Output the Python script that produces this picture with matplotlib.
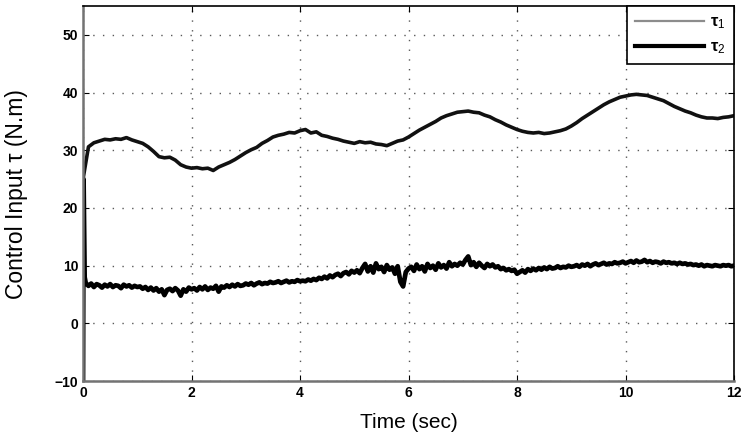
import numpy as np
import matplotlib
matplotlib.use('Agg')
import matplotlib.pyplot as plt
from matplotlib.lines import Line2D

# time grids
t1 = np.round(np.arange(0, 12.001, 0.1), 2)
t2 = np.concatenate([[0.0, 0.01, 0.03], np.round(np.arange(0.05, 12.001, 0.05), 2)])

# tau_1 (upper curve), sampled every 0.1 s
tau1 = [
    25.0, 30.6, 31.3, 31.6, 31.9, 31.8, 32.0, 31.9, 32.2, 31.8,
    31.5, 31.2, 30.6, 29.8, 28.9, 28.7, 28.8, 28.3, 27.5, 27.1,
    26.9, 27.0, 26.8, 26.9, 26.5, 27.1, 27.5, 27.9, 28.4, 29.0,
    29.6, 30.1, 30.5, 31.2, 31.7, 32.3, 32.6, 32.8, 33.1, 33.0,
    33.4, 33.6, 33.0, 33.2, 32.6, 32.4, 32.1, 31.9, 31.6, 31.4,
    31.2, 31.5, 31.3, 31.4, 31.1, 31.0, 30.8, 31.2, 31.6, 31.8,
    32.3, 32.9, 33.5, 34.0, 34.5, 35.0, 35.6, 36.0, 36.3, 36.6,
    36.7, 36.8, 36.6, 36.5, 36.1, 35.8, 35.3, 34.9, 34.4, 34.0,
    33.6, 33.3, 33.1, 33.0, 33.1, 32.9, 33.0, 33.2, 33.4, 33.7,
    34.2, 34.8, 35.5, 36.1, 36.7, 37.3, 37.9, 38.4, 38.8, 39.2,
    39.4, 39.6, 39.7, 39.6, 39.5, 39.2, 38.9, 38.6, 38.1, 37.6,
    37.2, 36.8, 36.5, 36.1, 35.8, 35.6, 35.6, 35.5, 35.7, 35.8,
    36.0,
]

# tau_2 (lower curve): initial spike, then every 0.05 s
tau2 = [
    -10.0, 25.0, 8.0,
    7.0, 6.5, 6.9, 6.3, 6.8, 6.6, 6.2, 6.7, 6.4, 6.8, 6.3, 6.6, 6.5, 6.1, 6.7, 6.4, 6.6, 6.2, 6.5, 6.3,
    6.4, 6.0, 6.3, 5.8, 6.2, 5.7, 6.1, 5.5, 5.9, 4.9, 5.8, 6.0, 5.6, 6.1, 5.7, 4.8, 5.9, 5.5, 6.2, 5.9,
    6.1, 5.7, 6.3, 5.9, 6.4, 5.8, 6.2, 6.0, 6.5, 5.5, 6.4, 6.2, 6.6, 6.3, 6.7, 6.4, 6.8, 6.5, 6.6, 6.9,
    6.7, 7.0, 6.6, 6.9, 7.1, 6.8, 7.0, 6.9, 7.2, 7.0, 7.1, 7.3, 7.0, 7.2, 7.4, 7.1, 7.3, 7.2, 7.5, 7.3,
    7.4, 7.3, 7.6, 7.4, 7.7, 7.5, 7.9, 7.7, 8.1, 7.8, 8.3, 8.0, 8.4, 8.6, 8.2, 8.7, 8.9, 8.5, 9.1, 8.8,
    9.2, 8.7, 9.6, 10.3, 9.0, 9.9, 8.8, 10.4, 9.4, 9.8, 8.9, 10.1, 9.3, 9.7, 8.6, 9.9, 7.2, 6.4, 8.9, 9.5,
    9.8, 9.1, 10.2, 9.4, 9.9, 9.0, 10.3, 9.6, 10.0, 9.3, 10.4, 9.7, 10.1, 9.5, 10.6, 9.9, 10.3, 10.0, 10.5, 10.2,
    11.0, 11.6, 10.1, 10.6, 9.8, 10.5, 10.0, 9.6, 10.3, 9.9, 10.2, 9.7, 9.9, 9.4, 9.6, 9.2, 9.4, 9.1, 9.3, 8.6,
    8.9, 9.2, 8.8, 9.4, 9.1, 9.5, 9.2, 9.6, 9.3, 9.7, 9.4, 9.8, 9.5, 9.6, 9.9, 9.6, 9.8, 9.7, 10.0, 9.8,
    9.9, 10.1, 9.8, 10.2, 10.0, 10.3, 9.9, 10.2, 10.4, 10.1, 10.3, 10.5, 10.2, 10.4, 10.3, 10.6, 10.4, 10.5, 10.7, 10.4,
    10.6, 10.8, 10.5, 10.9, 10.6, 10.7, 11.0, 10.6, 10.8, 10.5, 10.7, 10.6, 10.4, 10.7, 10.5, 10.6, 10.4, 10.5, 10.3, 10.5,
    10.3, 10.4, 10.2, 10.3, 10.1, 10.2, 10.0, 10.2, 9.9, 10.1, 10.0, 9.9, 10.1, 10.0, 9.9, 10.1, 10.0, 10.1, 9.9, 10.0,
]

xticks = [0, 2, 4, 6, 8, 10, 12]
yticks = [-10, 0, 10, 20, 30, 40, 50]

plt.rcParams['font.family'] = ['Liberation Sans', 'DejaVu Sans']
plt.rcParams['mathtext.fontset'] = 'custom'
plt.rcParams['mathtext.rm'] = 'Liberation Sans'
plt.rcParams['mathtext.it'] = 'Liberation Sans:bold'

fig = plt.figure(figsize=(7.44, 4.34), dpi=100)
ax = fig.add_axes([0.1116, 0.122, 0.875, 0.864])

ax.plot(t1, tau1, color='#111111', lw=2.6, solid_joinstyle='round')
ax.plot(t2, tau2, color='#000000', lw=3.4, solid_joinstyle='round')

ax.set_xlim(0, 12)
ax.set_ylim(-10, 55)
ax.set_xticks(xticks)
ax.set_yticks(yticks)
ax.set_yticklabels(['\u221210' if v < 0 else str(v) for v in yticks])
ax.grid(True, color='0.35', linestyle=(0, (1, 6)), linewidth=1.0)
ax.tick_params(direction='in', top=True, right=True, length=4, labelsize=10)
for lbl in ax.get_xticklabels() + ax.get_yticklabels():
    lbl.set_fontweight('bold')
for side in ['top', 'right']:
    ax.spines[side].set_linewidth(1.2)
for side in ['bottom', 'left']:
    ax.spines[side].set_linewidth(1.8)
    ax.spines[side].set_color('0.45')

ax.set_xlabel('Time (sec)', fontsize=15)
ax.xaxis.set_label_coords(0.5, -0.085)
ax.set_ylabel('Control Input \u03c4 (N.m)', fontsize=16.5)
ax.yaxis.set_label_coords(-0.085, 0.5)

handles = [Line2D([], [], color='0.55', lw=1.6),
           Line2D([], [], color='black', lw=3)]
leg = ax.legend(handles, [r'$\tau_1$', r'$\tau_2$'], loc='upper right',
                fancybox=False, edgecolor='black', framealpha=1,
                borderaxespad=0, fontsize=12, handlelength=4.1,
                borderpad=0.5, labelspacing=0.5, handletextpad=0.4)
leg.get_frame().set_linewidth(1.2)

fig.savefig('out.png', dpi=100)
